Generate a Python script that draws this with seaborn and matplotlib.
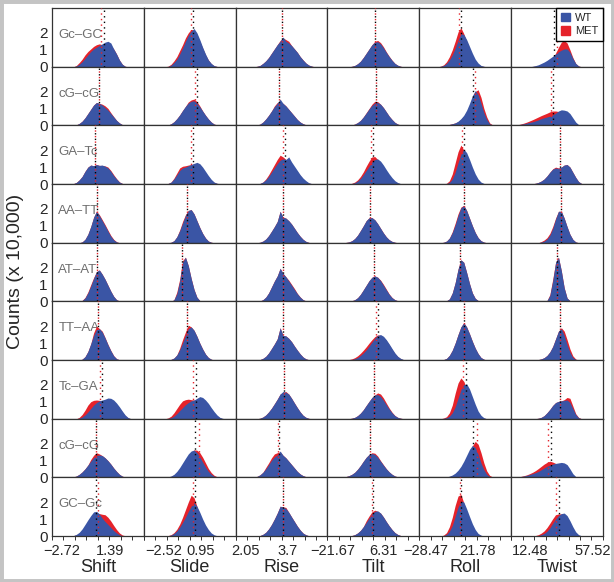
import numpy as np
import pandas as pd
import seaborn as sns
import matplotlib.pyplot as plt
from matplotlib.patches import Patch, Rectangle

# rows (base-pair steps) and columns (parameters)
steps = ["Gc–GC", "cG–cG", "GA–Tc", "AA–TT", "AT–AT", "TT–AA", "Tc–GA", "cG–cG", "GC–Gc"]
params = ["Shift", "Slide", "Rise", "Tilt", "Roll", "Twist"]

# axis range of each column and its two labelled ticks
xlims = [(-3.576, 4.301), (-4.396, 4.232), (1.657, 5.271),
         (-24.41, 26.06), (-34.27, 54.63), (-1.10, 64.67)]
xticks = [(-2.72, 1.39), (-2.52, 0.95), (2.05, 3.7),
          (-21.67, 6.31), (-28.47, 21.78), (12.48, 57.52)]
xticklabels = [("−2.72", "1.39"), ("−2.52", "0.95"), ("2.05", "3.7"),
               ("−21.67", "6.31"), ("−28.47", "21.78"), ("12.48", "57.52")]
NBINS = 32  # bins across each panel

# counts (x 10,000) per bin: (first bin index, heights) for each row
shift_wt = [
    (8, [0.05, 0.15, 0.3, 0.5, 0.7, 0.9, 1.05, 1.15, 1.25, 1.35, 1.45, 1.5, 1.4, 1.05, 0.75, 0.4, 0.15, 0.03]),
    (8, [0.04, 0.12, 0.25, 0.45, 0.7, 0.95, 1.2, 1.35, 1.3, 1.2, 1.05, 0.9, 0.7, 0.5, 0.3, 0.15, 0.05]),
    (7, [0.03, 0.1, 0.25, 0.45, 0.75, 1.0, 1.12, 1.08, 1.15, 1.1, 1.12, 1.05, 0.95, 0.75, 0.5, 0.3, 0.12, 0.04]),
    (10, [0.05, 0.2, 0.5, 0.95, 1.5, 1.85, 1.6, 1.3, 1.0, 0.68, 0.38, 0.17, 0.05]),
    (10, [0.05, 0.2, 0.5, 0.9, 1.35, 1.75, 1.85, 1.6, 1.3, 0.95, 0.6, 0.3, 0.1, 0.03]),
    (10, [0.05, 0.2, 0.5, 0.95, 1.45, 1.8, 1.85, 1.65, 1.3, 0.9, 0.55, 0.25, 0.08, 0.02]),
    (9, [0.03, 0.1, 0.22, 0.4, 0.6, 0.8, 0.95, 1.05, 1.1, 1.15, 1.22, 1.2, 1.1, 0.92, 0.7, 0.45, 0.22, 0.07]),
    (7, [0.03, 0.08, 0.18, 0.32, 0.5, 0.72, 0.95, 1.15, 1.28, 1.32, 1.28, 1.15, 0.98, 0.78, 0.55, 0.35, 0.18, 0.07, 0.02]),
    (7, [0.03, 0.1, 0.22, 0.42, 0.68, 0.95, 1.2, 1.42, 1.45, 1.3, 1.05, 0.85, 0.68, 0.5, 0.32, 0.18, 0.08, 0.02]),
]
shift_met = [
    (8, [0.08, 0.25, 0.45, 0.7, 0.9, 1.05, 1.2, 1.3, 1.35, 1.3, 1.3, 1.3, 1.25, 1.05, 0.75, 0.4, 0.15, 0.03]),
    (8, [0.04, 0.12, 0.25, 0.45, 0.7, 0.95, 1.2, 1.35, 1.3, 1.25, 1.15, 1.0, 0.75, 0.52, 0.3, 0.15, 0.05]),
    (7, [0.03, 0.1, 0.25, 0.45, 0.75, 1.0, 1.12, 1.08, 1.15, 1.1, 1.1, 1.07, 1.0, 0.8, 0.55, 0.32, 0.13, 0.04]),
    (10, [0.05, 0.2, 0.5, 0.95, 1.5, 1.85, 1.65, 1.36, 1.06, 0.74, 0.43, 0.2, 0.06]),
    (10, [0.06, 0.23, 0.55, 0.98, 1.4, 1.75, 1.85, 1.6, 1.3, 0.95, 0.6, 0.3, 0.1, 0.03]),
    (10, [0.05, 0.2, 0.5, 0.95, 1.6, 2.0, 1.85, 1.7, 1.32, 0.92, 0.56, 0.26, 0.08, 0.02]),
    (9, [0.08, 0.25, 0.5, 0.8, 1.0, 1.08, 1.1, 1.08, 1.05, 1.1, 1.15, 1.12, 1.02, 0.85, 0.62, 0.4, 0.18, 0.05]),
    (7, [0.03, 0.08, 0.18, 0.32, 0.5, 0.72, 1.05, 1.3, 1.45, 1.38, 1.28, 1.15, 0.98, 0.78, 0.55, 0.35, 0.18, 0.07, 0.02]),
    (7, [0.02, 0.07, 0.16, 0.32, 0.55, 0.8, 1.05, 1.25, 1.35, 1.32, 1.28, 1.25, 1.1, 0.88, 0.62, 0.38, 0.18, 0.06, 0.02]),
]
slide_wt = [
    (8, [0.02, 0.1, 0.25, 0.45, 0.75, 1.1, 1.5, 1.85, 2.1, 2.25, 2.0, 1.6, 1.15, 0.75, 0.4, 0.2, 0.07, 0.02]),
    (8, [0.03, 0.1, 0.22, 0.4, 0.62, 0.88, 1.12, 1.32, 1.42, 1.45, 1.3, 1.1, 0.85, 0.6, 0.38, 0.2, 0.08, 0.03]),
    (8, [0.04, 0.12, 0.3, 0.55, 0.8, 0.95, 1.0, 1.08, 1.15, 1.22, 1.28, 1.2, 1.0, 0.75, 0.5, 0.28, 0.12, 0.05, 0.02]),
    (9, [0.03, 0.12, 0.35, 0.7, 1.15, 1.6, 1.9, 1.95, 1.7, 1.3, 0.9, 0.55, 0.28, 0.1, 0.03]),
    (10, [0.1, 0.45, 1.2, 2.3, 2.6, 2.1, 1.35, 0.7, 0.25, 0.05]),
    (9, [0.04, 0.12, 0.3, 0.6, 1.0, 1.45, 1.85, 1.95, 1.75, 1.4, 1.0, 0.65, 0.35, 0.15, 0.05]),
    (8, [0.02, 0.06, 0.15, 0.3, 0.48, 0.65, 0.82, 0.95, 1.05, 1.1, 1.2, 1.3, 1.25, 1.1, 0.9, 0.65, 0.42, 0.22, 0.08, 0.02]),
    (8, [0.03, 0.08, 0.18, 0.35, 0.58, 0.85, 1.12, 1.38, 1.55, 1.6, 1.45, 1.2, 0.9, 0.6, 0.35, 0.18, 0.07, 0.02]),
    (8, [0.02, 0.06, 0.15, 0.3, 0.52, 0.8, 1.1, 1.45, 1.75, 1.95, 1.75, 1.4, 1.0, 0.65, 0.38, 0.18, 0.07, 0.02]),
]
slide_met = [
    (8, [0.04, 0.15, 0.35, 0.6, 0.95, 1.3, 1.7, 2.0, 2.2, 2.15, 1.9, 1.5, 1.1, 0.7, 0.4, 0.18, 0.06, 0.02]),
    (8, [0.03, 0.1, 0.22, 0.4, 0.62, 0.88, 1.12, 1.38, 1.5, 1.55, 1.4, 1.15, 0.85, 0.6, 0.38, 0.2, 0.08, 0.03]),
    (8, [0.04, 0.12, 0.35, 0.65, 0.95, 1.05, 1.08, 1.12, 1.15, 1.18, 1.2, 1.1, 0.9, 0.65, 0.42, 0.22, 0.1, 0.04]),
    (9, [0.03, 0.12, 0.35, 0.75, 1.25, 1.65, 1.9, 1.95, 1.7, 1.3, 0.9, 0.55, 0.28, 0.1, 0.03]),
    (10, [0.1, 0.55, 1.3, 2.4, 2.6, 2.1, 1.35, 0.7, 0.25, 0.05]),
    (9, [0.04, 0.12, 0.3, 0.7, 1.2, 1.65, 2.05, 1.95, 1.75, 1.4, 1.0, 0.65, 0.35, 0.15, 0.05]),
    (8, [0.05, 0.15, 0.35, 0.6, 0.85, 1.05, 1.12, 1.15, 1.12, 1.1, 1.12, 1.15, 1.1, 0.95, 0.75, 0.52, 0.32, 0.16, 0.05]),
    (8, [0.02, 0.06, 0.14, 0.28, 0.48, 0.74, 1.0, 1.28, 1.5, 1.62, 1.6, 1.45, 1.18, 0.85, 0.52, 0.28, 0.12, 0.04]),
    (8, [0.03, 0.08, 0.2, 0.4, 0.7, 1.1, 1.55, 2.0, 2.4, 2.25, 1.75, 1.25, 0.82, 0.48, 0.25, 0.1, 0.03]),
]
rise_wt = [
    (7, [0.03, 0.08, 0.2, 0.35, 0.55, 0.8, 1.05, 1.3, 1.5, 1.75, 1.5, 1.4, 1.25, 1.05, 0.85, 0.6, 0.4, 0.22, 0.1, 0.04]),
    (7, [0.03, 0.08, 0.2, 0.38, 0.6, 0.85, 1.1, 1.3, 1.55, 1.3, 1.15, 0.95, 0.75, 0.55, 0.35, 0.2, 0.1, 0.04]),
    (8, [0.04, 0.12, 0.25, 0.45, 0.7, 0.95, 1.2, 1.4, 1.5, 1.45, 1.6, 1.3, 1.05, 0.8, 0.55, 0.35, 0.2, 0.08, 0.03]),
    (8, [0.03, 0.1, 0.22, 0.42, 0.68, 0.95, 1.25, 1.85, 1.5, 1.45, 1.3, 1.1, 0.85, 0.6, 0.38, 0.2, 0.08, 0.02]),
    (8, [0.03, 0.1, 0.25, 0.5, 0.85, 1.2, 1.5, 1.95, 1.65, 1.45, 1.2, 0.95, 0.7, 0.45, 0.25, 0.1, 0.03]),
    (8, [0.03, 0.1, 0.22, 0.42, 0.68, 0.95, 1.25, 1.9, 1.45, 1.42, 1.28, 1.08, 0.82, 0.58, 0.36, 0.18, 0.07, 0.02]),
    (8, [0.03, 0.1, 0.22, 0.4, 0.62, 0.88, 1.15, 1.45, 1.6, 1.55, 1.45, 1.2, 0.92, 0.65, 0.4, 0.2, 0.08, 0.02]),
    (6, [0.02, 0.06, 0.15, 0.3, 0.5, 0.75, 1.0, 1.2, 1.3, 1.55, 1.3, 1.15, 0.95, 0.75, 0.55, 0.35, 0.2, 0.1, 0.04]),
    (8, [0.03, 0.1, 0.22, 0.42, 0.68, 1.0, 1.35, 1.75, 1.7, 1.62, 1.4, 1.12, 0.85, 0.58, 0.35, 0.17, 0.07, 0.02]),
]
rise_met = [
    (7, [0.03, 0.08, 0.2, 0.35, 0.55, 0.8, 1.05, 1.3, 1.55, 1.7, 1.6, 1.5, 1.25, 1.05, 0.85, 0.6, 0.4, 0.22, 0.1, 0.04]),
    (7, [0.03, 0.08, 0.2, 0.38, 0.6, 0.85, 1.15, 1.35, 1.4, 1.3, 1.15, 0.95, 0.75, 0.55, 0.35, 0.2, 0.1, 0.04]),
    (8, [0.04, 0.12, 0.3, 0.55, 0.85, 1.15, 1.45, 1.7, 1.6, 1.45, 1.35, 1.15, 0.95, 0.72, 0.5, 0.3, 0.15, 0.06, 0.02]),
    (8, [0.03, 0.1, 0.22, 0.42, 0.68, 0.95, 1.25, 1.85, 1.5, 1.45, 1.3, 1.1, 0.85, 0.6, 0.38, 0.2, 0.08, 0.02]),
    (8, [0.03, 0.1, 0.25, 0.5, 0.85, 1.2, 1.5, 1.95, 1.65, 1.45, 1.25, 1.0, 0.75, 0.47, 0.26, 0.1, 0.03]),
    (8, [0.03, 0.1, 0.22, 0.42, 0.68, 0.95, 1.25, 1.9, 1.45, 1.42, 1.28, 1.08, 0.82, 0.58, 0.36, 0.18, 0.07, 0.02]),
    (8, [0.03, 0.1, 0.22, 0.4, 0.62, 0.88, 1.15, 1.45, 1.55, 1.6, 1.45, 1.2, 0.92, 0.65, 0.4, 0.2, 0.08, 0.02]),
    (6, [0.02, 0.06, 0.15, 0.3, 0.58, 0.85, 1.15, 1.38, 1.45, 1.5, 1.3, 1.15, 0.95, 0.75, 0.55, 0.35, 0.2, 0.1, 0.04]),
    (8, [0.03, 0.1, 0.22, 0.42, 0.68, 1.0, 1.35, 1.75, 1.72, 1.68, 1.4, 1.12, 0.85, 0.58, 0.35, 0.17, 0.07, 0.02]),
]
tilt_wt = [
    (8, [0.03, 0.08, 0.18, 0.33, 0.55, 0.8, 1.05, 1.3, 1.45, 1.48, 1.35, 1.12, 0.85, 0.6, 0.38, 0.2, 0.09, 0.03]),
    (8, [0.03, 0.08, 0.17, 0.3, 0.5, 0.73, 0.97, 1.18, 1.32, 1.35, 1.25, 1.05, 0.8, 0.55, 0.35, 0.18, 0.08, 0.03]),
    (8, [0.03, 0.08, 0.18, 0.33, 0.55, 0.8, 1.05, 1.3, 1.45, 1.48, 1.35, 1.12, 0.85, 0.6, 0.38, 0.2, 0.09, 0.03]),
    (6, [0.02, 0.05, 0.12, 0.25, 0.45, 0.72, 1.0, 1.3, 1.47, 1.48, 1.35, 1.12, 0.85, 0.58, 0.35, 0.18, 0.08, 0.03]),
    (8, [0.04, 0.1, 0.22, 0.42, 0.68, 0.95, 1.22, 1.42, 1.5, 1.42, 1.22, 0.95, 0.68, 0.42, 0.22, 0.1, 0.04]),
    (8, [0.03, 0.08, 0.15, 0.27, 0.42, 0.6, 0.82, 1.05, 1.28, 1.45, 1.5, 1.4, 1.2, 0.95, 0.68, 0.42, 0.22, 0.1, 0.03]),
    (8, [0.03, 0.08, 0.18, 0.33, 0.53, 0.78, 1.02, 1.25, 1.4, 1.42, 1.3, 1.08, 0.82, 0.57, 0.35, 0.18, 0.08, 0.03]),
    (5, [0.02, 0.05, 0.1, 0.18, 0.3, 0.48, 0.7, 0.95, 1.18, 1.35, 1.4, 1.35, 1.18, 0.95, 0.72, 0.5, 0.32, 0.18, 0.08, 0.03]),
    (8, [0.03, 0.08, 0.18, 0.33, 0.55, 0.8, 1.05, 1.3, 1.45, 1.48, 1.35, 1.12, 0.85, 0.6, 0.38, 0.2, 0.09, 0.03]),
]
tilt_met = [
    (8, [0.03, 0.08, 0.18, 0.33, 0.55, 0.8, 1.05, 1.3, 1.5, 1.55, 1.42, 1.18, 0.88, 0.62, 0.39, 0.2, 0.09, 0.03]),
    (8, [0.03, 0.08, 0.17, 0.3, 0.5, 0.75, 1.0, 1.25, 1.42, 1.4, 1.25, 1.05, 0.8, 0.55, 0.35, 0.18, 0.08, 0.03]),
    (8, [0.05, 0.12, 0.25, 0.45, 0.72, 1.05, 1.35, 1.6, 1.62, 1.45, 1.2, 0.95, 0.7, 0.48, 0.3, 0.15, 0.06, 0.02]),
    (6, [0.02, 0.05, 0.12, 0.25, 0.45, 0.72, 1.0, 1.3, 1.47, 1.48, 1.35, 1.12, 0.85, 0.58, 0.35, 0.18, 0.08, 0.03]),
    (8, [0.04, 0.1, 0.22, 0.42, 0.68, 0.95, 1.22, 1.42, 1.5, 1.42, 1.25, 1.0, 0.72, 0.44, 0.23, 0.1, 0.04]),
    (7, [0.03, 0.07, 0.14, 0.25, 0.4, 0.58, 0.78, 1.0, 1.2, 1.38, 1.48, 1.45, 1.35, 1.15, 0.9, 0.62, 0.38, 0.2, 0.08, 0.02]),
    (8, [0.03, 0.08, 0.18, 0.33, 0.53, 0.78, 1.02, 1.25, 1.4, 1.52, 1.45, 1.22, 0.92, 0.63, 0.38, 0.19, 0.08, 0.03]),
    (5, [0.02, 0.05, 0.1, 0.18, 0.3, 0.48, 0.7, 0.95, 1.18, 1.35, 1.45, 1.42, 1.25, 0.98, 0.74, 0.51, 0.32, 0.18, 0.08, 0.03]),
    (8, [0.03, 0.08, 0.18, 0.33, 0.55, 0.9, 1.18, 1.42, 1.52, 1.45, 1.35, 1.12, 0.85, 0.6, 0.38, 0.2, 0.09, 0.03]),
]
roll_wt = [
    (7, [0.03, 0.08, 0.2, 0.4, 0.7, 1.1, 1.55, 1.95, 1.9, 1.6, 1.2, 0.8, 0.45, 0.22, 0.08, 0.03]),
    (9, [0.03, 0.06, 0.1, 0.15, 0.25, 0.4, 0.6, 0.9, 1.3, 1.75, 2.05, 1.8, 1.3, 0.75, 0.35, 0.1, 0.03]),
    (9, [0.03, 0.1, 0.3, 0.7, 1.25, 1.75, 2.05, 1.85, 1.45, 1.0, 0.6, 0.3, 0.12, 0.04]),
    (8, [0.03, 0.1, 0.28, 0.6, 1.05, 1.6, 2.05, 2.2, 1.9, 1.45, 1.0, 0.6, 0.3, 0.12, 0.04]),
    (9, [0.04, 0.15, 0.5, 1.1, 1.9, 2.45, 2.3, 1.7, 1.05, 0.5, 0.18, 0.05]),
    (8, [0.03, 0.1, 0.28, 0.58, 1.0, 1.5, 1.95, 2.2, 1.95, 1.55, 1.1, 0.7, 0.38, 0.15, 0.05]),
    (8, [0.02, 0.06, 0.15, 0.35, 0.7, 1.2, 1.7, 2.0, 2.05, 1.75, 1.3, 0.85, 0.45, 0.2, 0.06]),
    (9, [0.03, 0.07, 0.14, 0.25, 0.42, 0.65, 0.95, 1.3, 1.65, 1.88, 1.75, 1.35, 0.85, 0.45, 0.18, 0.05]),
    (8, [0.03, 0.1, 0.28, 0.62, 1.15, 1.7, 2.05, 2.0, 1.6, 1.15, 0.72, 0.38, 0.15, 0.05]),
]
roll_met = [
    (7, [0.04, 0.12, 0.3, 0.6, 1.0, 1.5, 2.05, 2.3, 1.95, 1.5, 1.05, 0.65, 0.35, 0.15, 0.05, 0.02]),
    (9, [0.03, 0.06, 0.1, 0.15, 0.22, 0.35, 0.55, 0.8, 1.15, 1.6, 2.0, 2.1, 1.65, 1.0, 0.5, 0.15, 0.04]),
    (9, [0.05, 0.2, 0.6, 1.25, 1.9, 2.3, 2.0, 1.55, 1.1, 0.7, 0.38, 0.18, 0.06, 0.02]),
    (8, [0.03, 0.1, 0.28, 0.65, 1.15, 1.7, 2.1, 2.2, 1.9, 1.45, 1.0, 0.6, 0.3, 0.12, 0.04]),
    (9, [0.04, 0.15, 0.5, 1.1, 1.9, 2.45, 2.3, 1.7, 1.05, 0.5, 0.18, 0.05]),
    (8, [0.03, 0.1, 0.28, 0.58, 1.0, 1.5, 1.95, 2.2, 1.95, 1.55, 1.1, 0.7, 0.38, 0.15, 0.05]),
    (8, [0.04, 0.12, 0.35, 0.8, 1.5, 2.1, 2.4, 2.2, 1.75, 1.3, 0.9, 0.55, 0.28, 0.1, 0.03]),
    (9, [0.02, 0.05, 0.1, 0.18, 0.3, 0.5, 0.75, 1.05, 1.45, 1.85, 2.12, 1.95, 1.45, 0.85, 0.38, 0.12, 0.03]),
    (8, [0.06, 0.2, 0.55, 1.1, 1.8, 2.35, 2.45, 1.95, 1.4, 0.92, 0.52, 0.25, 0.1, 0.03]),
]
twist_wt = [
    (7, [0.03, 0.07, 0.12, 0.2, 0.28, 0.38, 0.5, 0.62, 0.75, 0.88, 0.98, 1.05, 1.05, 0.85, 0.5, 0.2, 0.05]),
    (1, [0.02, 0.04, 0.07, 0.1, 0.14, 0.18, 0.22, 0.27, 0.33, 0.4, 0.45, 0.5, 0.55, 0.62, 0.72, 0.85, 0.92, 0.9, 0.85, 0.7, 0.45, 0.2, 0.05]),
    (7, [0.02, 0.05, 0.1, 0.18, 0.3, 0.48, 0.7, 0.88, 0.95, 0.92, 1.0, 1.12, 1.15, 1.0, 0.7, 0.4, 0.15, 0.04]),
    (10, [0.04, 0.1, 0.22, 0.45, 0.85, 1.4, 1.85, 1.85, 1.45, 0.95, 0.5, 0.2, 0.05]),
    (12, [0.05, 0.35, 1.2, 2.3, 2.6, 1.8, 0.8, 0.2, 0.04]),
    (9, [0.03, 0.07, 0.14, 0.27, 0.48, 0.8, 1.25, 1.7, 1.85, 1.45, 0.9, 0.45, 0.15, 0.04]),
    (9, [0.03, 0.08, 0.18, 0.35, 0.55, 0.78, 0.95, 1.02, 1.05, 1.08, 1.1, 0.95, 0.6, 0.25, 0.06]),
    (2, [0.02, 0.05, 0.08, 0.12, 0.17, 0.22, 0.28, 0.35, 0.45, 0.55, 0.65, 0.72, 0.78, 0.82, 0.85, 0.88, 0.85, 0.75, 0.5, 0.22, 0.05]),
    (9, [0.03, 0.08, 0.15, 0.28, 0.48, 0.75, 1.0, 1.2, 1.32, 1.35, 1.2, 0.9, 0.55, 0.25, 0.08, 0.02]),
]
twist_met = [
    (7, [0.02, 0.04, 0.08, 0.12, 0.18, 0.26, 0.38, 0.55, 0.8, 1.15, 1.45, 1.55, 1.4, 1.0, 0.55, 0.2, 0.05]),
    (1, [0.02, 0.05, 0.09, 0.14, 0.2, 0.27, 0.34, 0.42, 0.5, 0.58, 0.65, 0.72, 0.8, 0.85, 0.85, 0.82, 0.75, 0.65, 0.55, 0.42, 0.25, 0.1, 0.03]),
    (7, [0.02, 0.05, 0.1, 0.18, 0.3, 0.48, 0.7, 0.9, 1.0, 0.95, 1.0, 1.12, 1.15, 1.0, 0.7, 0.4, 0.15, 0.04]),
    (10, [0.07, 0.16, 0.3, 0.55, 0.95, 1.45, 1.85, 1.85, 1.45, 0.95, 0.5, 0.2, 0.05]),
    (12, [0.05, 0.4, 1.3, 2.3, 2.6, 1.8, 0.8, 0.2, 0.04]),
    (9, [0.03, 0.07, 0.14, 0.27, 0.48, 0.8, 1.25, 1.7, 1.9, 1.7, 1.2, 0.65, 0.25, 0.06]),
    (9, [0.03, 0.08, 0.18, 0.35, 0.55, 0.78, 0.95, 1.02, 1.05, 1.12, 1.25, 1.2, 0.75, 0.3, 0.08]),
    (2, [0.03, 0.06, 0.1, 0.15, 0.22, 0.3, 0.4, 0.52, 0.65, 0.78, 0.88, 0.95, 0.9, 0.82, 0.75, 0.68, 0.58, 0.45, 0.28, 0.1, 0.03]),
    (8, [0.03, 0.08, 0.17, 0.3, 0.5, 0.75, 1.02, 1.25, 1.3, 1.3, 1.2, 1.0, 0.72, 0.42, 0.18, 0.05]),
]

# mean values (dotted lines), one per row
shift_mean_wt = [0.88, 0.45, 0.11, 0.25, 0.28, 0.36, 0.71, 0.19, 0.17]
shift_mean_met = [0.59, 0.47, 0.11, 0.25, 0.28, 0.36, 0.53, 0.19, 0.36]
slide_mean_wt = [0.27, 0.57, 0.20, -0.36, -0.77, -0.30, 0.48, 0.39, 0.39]
slide_mean_met = [0.08, 0.39, 0.08, -0.36, -0.77, -0.30, 0.23, 0.76, 0.20]
rise_mean_wt = [3.50, 3.35, 3.58, 3.53, 3.53, 3.53, 3.56, 3.36, 3.53]
rise_mean_met = [3.50, 3.35, 3.54, 3.53, 3.53, 3.53, 3.56, 3.32, 3.53]
tilt_mean_wt = [1.92, 2.47, 0.66, -0.82, 0.99, 3.18, 1.37, -0.82, 0.83]
tilt_mean_met = [1.92, 2.47, -0.27, -0.82, 0.99, 2.47, 1.37, -0.82, 0.28]
roll_mean_wt = [6.31, 17.91, 9.21, 9.21, 5.35, 9.21, 10.86, 17.91, 6.02]
roll_mean_met = [4.38, 19.84, 7.28, 9.21, 5.35, 9.21, 7.96, 21.78, 4.67]
twist_mean_wt = [29.64, 28.71, 33.93, 34.43, 32.0, 33.93, 33.93, 27.50, 33.22]
twist_mean_met = [31.79, 27.50, 33.93, 34.43, 32.0, 33.93, 33.93, 25.35, 31.07]

wt_hists = [shift_wt, slide_wt, rise_wt, tilt_wt, roll_wt, twist_wt]
met_hists = [shift_met, slide_met, rise_met, tilt_met, roll_met, twist_met]
wt_means = [shift_mean_wt, slide_mean_wt, rise_mean_wt, tilt_mean_wt, roll_mean_wt, twist_mean_wt]
met_means = [shift_mean_met, slide_mean_met, rise_mean_met, tilt_mean_met, roll_mean_met, twist_mean_met]

BLUE = "#3a55a5"
RED = "#e5222a"

sns.set_theme(style="white")
plt.rcParams["font.family"] = ["Liberation Sans", "DejaVu Sans"]

fig, axes = plt.subplots(9, 6, figsize=(6.14, 5.82), dpi=100, sharex="col", sharey=True)
fig.subplots_adjust(left=0.0847, right=0.982, top=0.986, bottom=0.079, wspace=0, hspace=0)


def to_frame(hist, edges):
    centers = (edges[:-1] + edges[1:]) / 2
    start, h = hist
    return pd.DataFrame({"x": centers[start:start + len(h)], "n": h})


for j, param in enumerate(params):
    lo, hi = xlims[j]
    edges = np.linspace(lo, hi, NBINS + 1)
    for i, step in enumerate(steps):
        ax = axes[i, j]
        met = to_frame(met_hists[j][i], edges)
        wt = to_frame(wt_hists[j][i], edges)
        sns.histplot(data=met, x="x", weights="n", bins=edges.tolist(), element="poly", fill=True,
                     color=RED, alpha=1, linewidth=0, ax=ax)
        sns.histplot(data=wt, x="x", weights="n", bins=edges.tolist(), element="poly", fill=True,
                     color=BLUE, alpha=1, linewidth=0, ax=ax)
        ax.axvline(wt_means[j][i], color="black", lw=1.0, ls=(0, (1, 3)), zorder=4)
        ax.axvline(met_means[j][i], color=RED, lw=1.0, ls=(2, (1, 3)), zorder=4)
        ax.set_xlabel("")
        ax.set_ylabel("")
        ax.set_xlim(lo, hi)
        ax.set_ylim(0, 3.45)
        for s in ax.spines.values():
            s.set_color("#333333")
            s.set_linewidth(0.9)
        ax.tick_params(axis="y", length=0, pad=3, labelsize=11)
        if j == 0:
            ax.text(0.07, 0.54, step, transform=ax.transAxes, fontsize=9.5, color="#6e6e6e",
                    va="center", ha="left", zorder=0.5)
    ax = axes[-1, j]
    ax.set_xticks(list(xticks[j]), list(xticklabels[j]))
    ax.set_xticks(np.linspace(lo, hi, 9), minor=True)
    ax.tick_params(axis="x", which="major", length=0, pad=5.5, labelsize=10.5)
    ax.tick_params(axis="x", which="minor", bottom=True, length=3, width=0.7, color="#333333")
    ax.set_xlabel(param, fontsize=13, labelpad=1)

axes[0, 0].set_yticks([0, 1, 2])

axes[0, 5].legend(handles=[Patch(color=BLUE, label="WT"), Patch(color=RED, label="MET")],
                  loc="upper right", borderaxespad=0, fancybox=False, edgecolor="black",
                  fontsize=8, handlelength=0.8, handleheight=0.8, handletextpad=0.5,
                  borderpad=0.4, labelspacing=0.3, framealpha=1)

fig.text(0.025, 0.533, "Counts (x 10,000)", rotation=90, va="center", ha="center", fontsize=14)
fig.patches.append(Rectangle((0, 0), 1, 1, transform=fig.transFigure, fill=False,
                             edgecolor="#c4c4c4", lw=5))

fig.savefig("out.png", dpi=100)
